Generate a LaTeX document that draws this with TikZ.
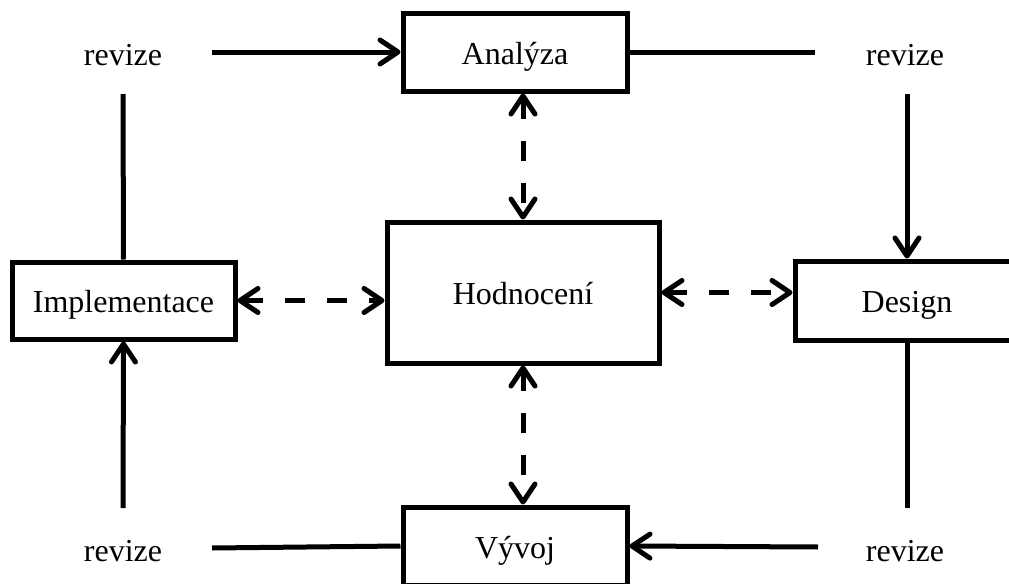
\documentclass[tikz,border=0pt]{standalone}
\usepackage{fontspec}
\setmainfont{Liberation Serif}
\usetikzlibrary{arrows.meta}
\begin{document}
\begin{tikzpicture}[x=0.5pt,y=-0.5pt,
  box/.style={draw, line width=2.5pt, rectangle, inner sep=0pt, text height=12pt, text depth=0pt, font=\fontsize{16}{19}\selectfont},
  lbl/.style={font=\fontsize{16}{19}\selectfont, inner sep=0pt},
  conn/.style={line width=2.5pt},
  arr/.style={conn, -{Straight Barb[length=9pt,width=12pt,round]}},
  dbl/.style={conn, dash pattern=on 10pt off 11pt, {Straight Barb[length=9pt,width=12pt,round]}-{Straight Barb[length=9pt,width=12pt,round]}}]
\useasboundingbox (0,0) rectangle (1009,584);
\clip (0,0) rectangle (1009,584);

\node[box, minimum width=112pt, minimum height=39pt] (an) at (515,52) {Analýza};
\node[box, minimum width=136pt, minimum height=70.5pt] (ho) at (523,292.5) {Hodnocení};
\node[box, minimum width=111.5pt, minimum height=38.5pt] (im) at (123.5,300.5) {Implementace};
\node[box, minimum width=112pt, minimum height=39.5pt] (de) at (907,300.5) {Design};
\node[box, minimum width=112pt, minimum height=39pt] (vy) at (515,546) {Vývoj};

\node[lbl] (r1) at (123,55) {revize};
\node[lbl] (r2) at (905,55) {revize};
\node[lbl] (r3) at (123,551) {revize};
\node[lbl] (r4) at (905,551) {revize};

\coordinate (c1) at (123,94);
\coordinate (c2) at (212,52);
\coordinate (c3) at (815,52);
\coordinate (c4) at (907,94);
\coordinate (c5) at (907,508);
\coordinate (c6) at (818,547);
\coordinate (c7) at (212,548);
\coordinate (c8) at (123,508);

\draw[conn] (im.north) -- (c1);
\draw[arr] (c2) -- (an.west);
\draw[conn] (an.east) -- (c3);
\draw[arr] (c4) -- (de.north);
\draw[conn] (de.south) -- (c5);
\draw[arr] (c6) -- (vy.east);
\draw[conn] (vy.west) -- (c7);
\draw[arr] (c8) -- (im.south);

\draw[dbl] (an.south -| ho.north) -- (ho.north);
\draw[dbl] (ho.south) -- (vy.north -| ho.south);
\draw[dbl] (im.east) -- (im.east -| ho.west);
\draw[dbl] (ho.east) -- (ho.east -| de.west);
\end{tikzpicture}
\end{document}
